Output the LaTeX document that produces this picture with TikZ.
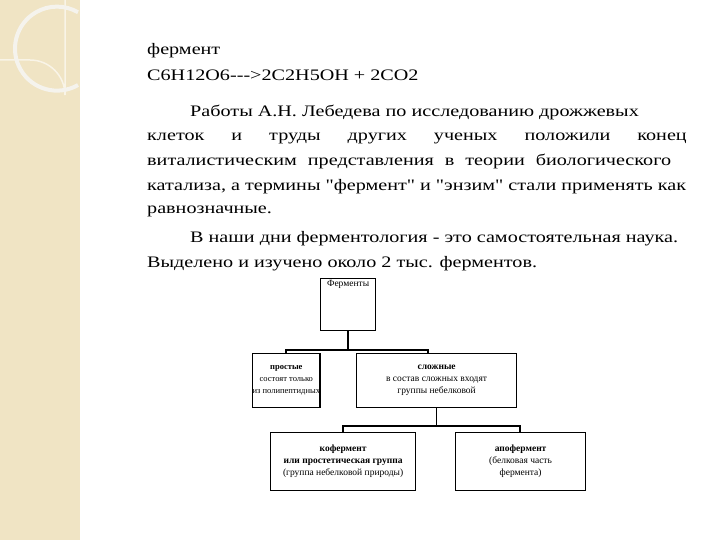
\documentclass[tikz,border=0pt]{standalone}
\usepackage{fontspec}
\setmainfont{Liberation Serif}
\newfontfamily\wide[FakeStretch=1.26]{Liberation Serif}
\definecolor{side}{RGB}{240,228,196}
\begin{document}
\begin{tikzpicture}[x=1pt,y=-1pt,
  txt/.style={anchor=base west,font=\wide\fontsize{16}{19}\selectfont,inner sep=0},
  bx/.style={draw,line width=1.2pt,align=center,font=\fontsize{9.5}{12}\selectfont,inner sep=0},
  ln/.style={line width=1.5pt}]
\useasboundingbox (0,0) rectangle (720,540);
\fill[side] (0,0) rectangle (80,540);
\draw[white!60!side,line width=1.5pt] (0,60) -- (30,60) arc[start angle=-90,end angle=0,radius=35] -- (65,0);
\draw[side!85!black!20!white,line width=4pt] (78,85) arc[start angle=60,end angle=300,radius=42];
\node[txt] (t1) at (147,55) {фермент};
\node[txt] (t2) at (147,81) {C6H12O6{-}{-}{-}>2C2H5OH + 2CO2};
\node[txt] (t3) at (190,117) {Работы А.Н. Лебедева по исследованию дрожжевых};
\node[txt] (t4) at (147,141) {клеток\hspace{27pt}и\hspace{27pt}труды\hspace{27pt}других\hspace{27pt}ученых\hspace{27pt}положили\hspace{27pt}конец};
\node[txt] (t5) at (147,166) {виталистическим\hspace{11pt}представления\hspace{11pt}в\hspace{11pt}теории\hspace{11pt}биологического};
\node[txt] (t6) at (147,191) {катализа, а термины \char"22фермент\char"22{} и \char"22энзим\char"22{} стали применять как};
\node[txt] (t7) at (147,214) {равнозначные.};
\node[txt] (t8) at (190,243) {В наши дни ферментология - это самостоятельная наука.};
\node[txt] (t9) at (147,267) {Выделено и изучено около 2 тыс. ферментов.};
\node[bx,minimum width=55pt,minimum height=52pt,anchor=north west] (f) at (320,278) {};
\node[font=\fontsize{9.5}{11}\selectfont,anchor=north,inner sep=2pt] (fl) at (f.north) {Ферменты};
\node[bx,font=\fontsize{8.5}{12}\selectfont,minimum width=66pt,minimum height=54pt,anchor=north west] (p) at (252,353) {\textbf{простые}\\состоят только\\из полипептидных};
\node[bx,minimum width=160pt,minimum height=54pt,anchor=north west] (s) at (356,353) {\textbf{сложные}\\в состав сложных входят\\группы небелковой};
\node[bx,minimum width=145pt,minimum height=58pt,anchor=north west] (k) at (270,432) {\textbf{кофермент}\\\textbf{или простетическая группа}\\(группа небелковой природы)};
\node[bx,minimum width=130pt,minimum height=58pt,anchor=north west] (a) at (455,432) {\textbf{апофермент}\\(белковая часть\\фермента)};
\draw[ln] (f.south) -- ++(0,19) coordinate (j1);
\draw[ln] (p.north -| 286,0) |- (j1) -| (s.north -| 428,0);
\draw[ln] (s.south) -- ++(0,18) coordinate (j2);
\draw[ln] (k.north) |- (j2) -| (a.north -| 520,0);
\end{tikzpicture}
\end{document}
